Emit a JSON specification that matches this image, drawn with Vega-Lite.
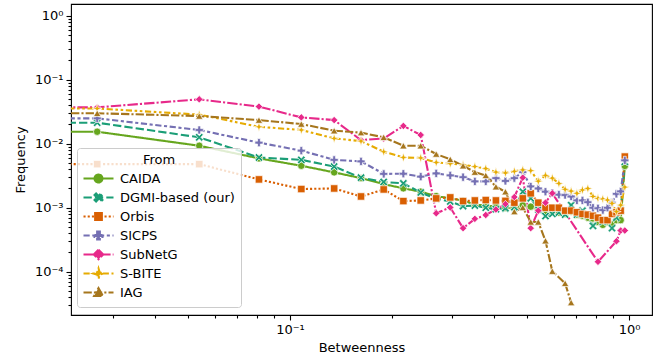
{
  "$schema": "https://vega.github.io/schema/vega-lite/v6.json",
  "width": 581,
  "height": 311,
  "autosize": {"type": "none"},
  "padding": {"left": 71, "top": 4, "right": 13, "bottom": 48},
  "background": "white",
  "config": {
    "font": "DejaVu Sans",
    "view": {"stroke": "black", "strokeWidth": 1.1},
    "axis": {
      "domain": false, "grid": false, "tickColor": "black", "tickWidth": 1.1,
      "labelColor": "black", "labelFontSize": 13, "labelFont": "DejaVu Sans",
      "titleFontSize": 13, "titleFontWeight": "normal", "titleColor": "black", "titleFont": "DejaVu Sans",
      "labelOverlap": false, "labelFlush": false
    },
    "legend": {
      "titleAnchor": "middle", "titleFontSize": 13, "titleFontWeight": "normal", "titleColor": "black", "titlePadding": 3, "titleFont": "DejaVu Sans",
      "labelFontSize": 13, "labelColor": "black", "labelFont": "DejaVu Sans",
      "fillColor": "rgba(255,255,255,0.8)", "strokeColor": "#cccccc", "cornerRadius": 3, "padding": 6,
      "symbolSize": 64, "symbolOffset": 9, "labelOffset": 15, "rowPadding": 2, "clipHeight": 17, "symbolStrokeWidth": 2, "symbolOpacity": 1
    }
  },
  "resolve": {"scale": {"shape": "independent", "strokeDash": "independent", "fill": "independent", "stroke": "independent"}},
  "data": {"values": [
    {"From":"CAIDA","Betweenness":0.015,"Frequency":0.0154},
    {"From":"CAIDA","Betweenness":0.027,"Frequency":0.0154},
    {"From":"CAIDA","Betweenness":0.054,"Frequency":0.0093},
    {"From":"CAIDA","Betweenness":0.081,"Frequency":0.0059},
    {"From":"CAIDA","Betweenness":0.108,"Frequency":0.00453},
    {"From":"CAIDA","Betweenness":0.135,"Frequency":0.00357},
    {"From":"CAIDA","Betweenness":0.162,"Frequency":0.0029},
    {"From":"CAIDA","Betweenness":0.189,"Frequency":0.00234},
    {"From":"CAIDA","Betweenness":0.216,"Frequency":0.00201},
    {"From":"CAIDA","Betweenness":0.243,"Frequency":0.00178},
    {"From":"CAIDA","Betweenness":0.27,"Frequency":0.00152},
    {"From":"CAIDA","Betweenness":0.297,"Frequency":0.0014},
    {"From":"CAIDA","Betweenness":0.324,"Frequency":0.00129},
    {"From":"CAIDA","Betweenness":0.351,"Frequency":0.00113},
    {"From":"CAIDA","Betweenness":0.378,"Frequency":0.00107},
    {"From":"CAIDA","Betweenness":0.405,"Frequency":0.00105},
    {"From":"CAIDA","Betweenness":0.432,"Frequency":0.001},
    {"From":"CAIDA","Betweenness":0.459,"Frequency":0.00098},
    {"From":"CAIDA","Betweenness":0.486,"Frequency":0.0011},
    {"From":"CAIDA","Betweenness":0.513,"Frequency":0.00104},
    {"From":"CAIDA","Betweenness":0.54,"Frequency":0.00095},
    {"From":"CAIDA","Betweenness":0.567,"Frequency":0.00085},
    {"From":"CAIDA","Betweenness":0.594,"Frequency":0.00088},
    {"From":"CAIDA","Betweenness":0.621,"Frequency":0.00084},
    {"From":"CAIDA","Betweenness":0.648,"Frequency":0.0008},
    {"From":"CAIDA","Betweenness":0.675,"Frequency":0.00087},
    {"From":"CAIDA","Betweenness":0.702,"Frequency":0.00078},
    {"From":"CAIDA","Betweenness":0.729,"Frequency":0.00075},
    {"From":"CAIDA","Betweenness":0.756,"Frequency":0.0007},
    {"From":"CAIDA","Betweenness":0.783,"Frequency":0.00068},
    {"From":"CAIDA","Betweenness":0.81,"Frequency":0.0006},
    {"From":"CAIDA","Betweenness":0.837,"Frequency":0.00054},
    {"From":"CAIDA","Betweenness":0.864,"Frequency":0.0006},
    {"From":"CAIDA","Betweenness":0.891,"Frequency":0.00055},
    {"From":"CAIDA","Betweenness":0.918,"Frequency":0.00064},
    {"From":"CAIDA","Betweenness":0.945,"Frequency":0.00064},
    {"From":"CAIDA","Betweenness":0.972,"Frequency":0.0045},

    {"From":"DGMI-based (our)","Betweenness":0.015,"Frequency":0.0213},
    {"From":"DGMI-based (our)","Betweenness":0.027,"Frequency":0.0213},
    {"From":"DGMI-based (our)","Betweenness":0.054,"Frequency":0.0126},
    {"From":"DGMI-based (our)","Betweenness":0.081,"Frequency":0.0061},
    {"From":"DGMI-based (our)","Betweenness":0.108,"Frequency":0.0056},
    {"From":"DGMI-based (our)","Betweenness":0.135,"Frequency":0.0044},
    {"From":"DGMI-based (our)","Betweenness":0.162,"Frequency":0.00295},
    {"From":"DGMI-based (our)","Betweenness":0.189,"Frequency":0.00253},
    {"From":"DGMI-based (our)","Betweenness":0.216,"Frequency":0.0024},
    {"From":"DGMI-based (our)","Betweenness":0.243,"Frequency":0.00173},
    {"From":"DGMI-based (our)","Betweenness":0.27,"Frequency":0.00138},
    {"From":"DGMI-based (our)","Betweenness":0.297,"Frequency":0.00125},
    {"From":"DGMI-based (our)","Betweenness":0.324,"Frequency":0.00106},
    {"From":"DGMI-based (our)","Betweenness":0.351,"Frequency":0.00108},
    {"From":"DGMI-based (our)","Betweenness":0.378,"Frequency":0.001},
    {"From":"DGMI-based (our)","Betweenness":0.405,"Frequency":0.00095},
    {"From":"DGMI-based (our)","Betweenness":0.432,"Frequency":0.00098},
    {"From":"DGMI-based (our)","Betweenness":0.459,"Frequency":0.00102},
    {"From":"DGMI-based (our)","Betweenness":0.486,"Frequency":0.00178},
    {"From":"DGMI-based (our)","Betweenness":0.513,"Frequency":0.0014},
    {"From":"DGMI-based (our)","Betweenness":0.54,"Frequency":0.00094},
    {"From":"DGMI-based (our)","Betweenness":0.567,"Frequency":0.00074},
    {"From":"DGMI-based (our)","Betweenness":0.594,"Frequency":0.0008},
    {"From":"DGMI-based (our)","Betweenness":0.621,"Frequency":0.00084},
    {"From":"DGMI-based (our)","Betweenness":0.648,"Frequency":0.00078},
    {"From":"DGMI-based (our)","Betweenness":0.675,"Frequency":0.0011},
    {"From":"DGMI-based (our)","Betweenness":0.702,"Frequency":0.00078},
    {"From":"DGMI-based (our)","Betweenness":0.729,"Frequency":0.0009},
    {"From":"DGMI-based (our)","Betweenness":0.756,"Frequency":0.00075},
    {"From":"DGMI-based (our)","Betweenness":0.783,"Frequency":0.00052},
    {"From":"DGMI-based (our)","Betweenness":0.81,"Frequency":0.0007},
    {"From":"DGMI-based (our)","Betweenness":0.837,"Frequency":0.0006},
    {"From":"DGMI-based (our)","Betweenness":0.864,"Frequency":0.00065},
    {"From":"DGMI-based (our)","Betweenness":0.891,"Frequency":0.00048},
    {"From":"DGMI-based (our)","Betweenness":0.918,"Frequency":0.0007},
    {"From":"DGMI-based (our)","Betweenness":0.945,"Frequency":0.00092},
    {"From":"DGMI-based (our)","Betweenness":0.972,"Frequency":0.0052},

    {"From":"Orbis","Betweenness":0.015,"Frequency":0.0048},
    {"From":"Orbis","Betweenness":0.027,"Frequency":0.0048},
    {"From":"Orbis","Betweenness":0.054,"Frequency":0.0048},
    {"From":"Orbis","Betweenness":0.081,"Frequency":0.00277},
    {"From":"Orbis","Betweenness":0.108,"Frequency":0.00196},
    {"From":"Orbis","Betweenness":0.135,"Frequency":0.002},
    {"From":"Orbis","Betweenness":0.162,"Frequency":0.0015},
    {"From":"Orbis","Betweenness":0.189,"Frequency":0.00193},
    {"From":"Orbis","Betweenness":0.216,"Frequency":0.00127},
    {"From":"Orbis","Betweenness":0.243,"Frequency":0.0013},
    {"From":"Orbis","Betweenness":0.27,"Frequency":0.0014},
    {"From":"Orbis","Betweenness":0.297,"Frequency":0.00145},
    {"From":"Orbis","Betweenness":0.324,"Frequency":0.00127},
    {"From":"Orbis","Betweenness":0.351,"Frequency":0.0013},
    {"From":"Orbis","Betweenness":0.378,"Frequency":0.00132},
    {"From":"Orbis","Betweenness":0.405,"Frequency":0.0013},
    {"From":"Orbis","Betweenness":0.432,"Frequency":0.00128},
    {"From":"Orbis","Betweenness":0.459,"Frequency":0.0012},
    {"From":"Orbis","Betweenness":0.486,"Frequency":0.0014},
    {"From":"Orbis","Betweenness":0.513,"Frequency":0.00168},
    {"From":"Orbis","Betweenness":0.54,"Frequency":0.0012},
    {"From":"Orbis","Betweenness":0.567,"Frequency":0.001},
    {"From":"Orbis","Betweenness":0.594,"Frequency":0.001},
    {"From":"Orbis","Betweenness":0.621,"Frequency":0.001},
    {"From":"Orbis","Betweenness":0.648,"Frequency":0.0009},
    {"From":"Orbis","Betweenness":0.675,"Frequency":0.0009},
    {"From":"Orbis","Betweenness":0.702,"Frequency":0.00085},
    {"From":"Orbis","Betweenness":0.729,"Frequency":0.0008},
    {"From":"Orbis","Betweenness":0.756,"Frequency":0.00078},
    {"From":"Orbis","Betweenness":0.783,"Frequency":0.00075},
    {"From":"Orbis","Betweenness":0.81,"Frequency":0.0007},
    {"From":"Orbis","Betweenness":0.837,"Frequency":0.00064},
    {"From":"Orbis","Betweenness":0.864,"Frequency":0.00064},
    {"From":"Orbis","Betweenness":0.891,"Frequency":0.0008},
    {"From":"Orbis","Betweenness":0.918,"Frequency":0.00085},
    {"From":"Orbis","Betweenness":0.945,"Frequency":0.0009},
    {"From":"Orbis","Betweenness":0.972,"Frequency":0.0063},

    {"From":"SICPS","Betweenness":0.015,"Frequency":0.0249},
    {"From":"SICPS","Betweenness":0.027,"Frequency":0.0249},
    {"From":"SICPS","Betweenness":0.054,"Frequency":0.0164},
    {"From":"SICPS","Betweenness":0.081,"Frequency":0.0104},
    {"From":"SICPS","Betweenness":0.108,"Frequency":0.0078},
    {"From":"SICPS","Betweenness":0.135,"Frequency":0.0056},
    {"From":"SICPS","Betweenness":0.162,"Frequency":0.0053},
    {"From":"SICPS","Betweenness":0.189,"Frequency":0.00338},
    {"From":"SICPS","Betweenness":0.216,"Frequency":0.0034},
    {"From":"SICPS","Betweenness":0.243,"Frequency":0.00306},
    {"From":"SICPS","Betweenness":0.27,"Frequency":0.00344},
    {"From":"SICPS","Betweenness":0.297,"Frequency":0.0032},
    {"From":"SICPS","Betweenness":0.324,"Frequency":0.003},
    {"From":"SICPS","Betweenness":0.351,"Frequency":0.00258},
    {"From":"SICPS","Betweenness":0.378,"Frequency":0.00258},
    {"From":"SICPS","Betweenness":0.405,"Frequency":0.0029},
    {"From":"SICPS","Betweenness":0.432,"Frequency":0.00262},
    {"From":"SICPS","Betweenness":0.459,"Frequency":0.0029},
    {"From":"SICPS","Betweenness":0.486,"Frequency":0.0036},
    {"From":"SICPS","Betweenness":0.513,"Frequency":0.00215},
    {"From":"SICPS","Betweenness":0.54,"Frequency":0.002},
    {"From":"SICPS","Betweenness":0.567,"Frequency":0.00178},
    {"From":"SICPS","Betweenness":0.594,"Frequency":0.0017},
    {"From":"SICPS","Betweenness":0.621,"Frequency":0.0016},
    {"From":"SICPS","Betweenness":0.648,"Frequency":0.00158},
    {"From":"SICPS","Betweenness":0.675,"Frequency":0.0015},
    {"From":"SICPS","Betweenness":0.702,"Frequency":0.0013},
    {"From":"SICPS","Betweenness":0.729,"Frequency":0.0013},
    {"From":"SICPS","Betweenness":0.756,"Frequency":0.00122},
    {"From":"SICPS","Betweenness":0.783,"Frequency":0.001},
    {"From":"SICPS","Betweenness":0.81,"Frequency":0.00098},
    {"From":"SICPS","Betweenness":0.837,"Frequency":0.00092},
    {"From":"SICPS","Betweenness":0.864,"Frequency":0.001},
    {"From":"SICPS","Betweenness":0.891,"Frequency":0.0012},
    {"From":"SICPS","Betweenness":0.918,"Frequency":0.00165},
    {"From":"SICPS","Betweenness":0.945,"Frequency":0.0018},
    {"From":"SICPS","Betweenness":0.972,"Frequency":0.0055},

    {"From":"SubNetG","Betweenness":0.015,"Frequency":0.037},
    {"From":"SubNetG","Betweenness":0.027,"Frequency":0.037},
    {"From":"SubNetG","Betweenness":0.054,"Frequency":0.0494},
    {"From":"SubNetG","Betweenness":0.081,"Frequency":0.038},
    {"From":"SubNetG","Betweenness":0.108,"Frequency":0.0258},
    {"From":"SubNetG","Betweenness":0.135,"Frequency":0.0234},
    {"From":"SubNetG","Betweenness":0.162,"Frequency":0.0114},
    {"From":"SubNetG","Betweenness":0.189,"Frequency":0.0121},
    {"From":"SubNetG","Betweenness":0.216,"Frequency":0.019},
    {"From":"SubNetG","Betweenness":0.243,"Frequency":0.0137},
    {"From":"SubNetG","Betweenness":0.27,"Frequency":0.00082},
    {"From":"SubNetG","Betweenness":0.297,"Frequency":0.00101},
    {"From":"SubNetG","Betweenness":0.324,"Frequency":0.00048},
    {"From":"SubNetG","Betweenness":0.351,"Frequency":0.00067},
    {"From":"SubNetG","Betweenness":0.378,"Frequency":0.00077},
    {"From":"SubNetG","Betweenness":0.405,"Frequency":0.00094},
    {"From":"SubNetG","Betweenness":0.432,"Frequency":0.00114},
    {"From":"SubNetG","Betweenness":0.459,"Frequency":0.00147},
    {"From":"SubNetG","Betweenness":0.486,"Frequency":0.00295},
    {"From":"SubNetG","Betweenness":0.513,"Frequency":0.00048},
    {"From":"SubNetG","Betweenness":0.54,"Frequency":0.0009},
    {"From":"SubNetG","Betweenness":0.567,"Frequency":0.0012},
    {"From":"SubNetG","Betweenness":0.594,"Frequency":0.00168},
    {"From":"SubNetG","Betweenness":0.81,"Frequency":0.000143},
    {"From":"SubNetG","Betweenness":0.918,"Frequency":0.0003},
    {"From":"SubNetG","Betweenness":0.945,"Frequency":0.00044},
    {"From":"SubNetG","Betweenness":0.972,"Frequency":0.00044},

    {"From":"S-BITE","Betweenness":0.015,"Frequency":0.0355},
    {"From":"S-BITE","Betweenness":0.027,"Frequency":0.0355},
    {"From":"S-BITE","Betweenness":0.054,"Frequency":0.0285},
    {"From":"S-BITE","Betweenness":0.081,"Frequency":0.0184},
    {"From":"S-BITE","Betweenness":0.108,"Frequency":0.0164},
    {"From":"S-BITE","Betweenness":0.135,"Frequency":0.0121},
    {"From":"S-BITE","Betweenness":0.162,"Frequency":0.011},
    {"From":"S-BITE","Betweenness":0.189,"Frequency":0.0075},
    {"From":"S-BITE","Betweenness":0.216,"Frequency":0.0061},
    {"From":"S-BITE","Betweenness":0.243,"Frequency":0.006},
    {"From":"S-BITE","Betweenness":0.27,"Frequency":0.0051},
    {"From":"S-BITE","Betweenness":0.297,"Frequency":0.0049},
    {"From":"S-BITE","Betweenness":0.324,"Frequency":0.0047},
    {"From":"S-BITE","Betweenness":0.351,"Frequency":0.0044},
    {"From":"S-BITE","Betweenness":0.378,"Frequency":0.0041},
    {"From":"S-BITE","Betweenness":0.405,"Frequency":0.0036},
    {"From":"S-BITE","Betweenness":0.432,"Frequency":0.0035},
    {"From":"S-BITE","Betweenness":0.459,"Frequency":0.0037},
    {"From":"S-BITE","Betweenness":0.486,"Frequency":0.0039},
    {"From":"S-BITE","Betweenness":0.513,"Frequency":0.0038},
    {"From":"S-BITE","Betweenness":0.54,"Frequency":0.0026},
    {"From":"S-BITE","Betweenness":0.567,"Frequency":0.0032},
    {"From":"S-BITE","Betweenness":0.594,"Frequency":0.0029},
    {"From":"S-BITE","Betweenness":0.621,"Frequency":0.0024},
    {"From":"S-BITE","Betweenness":0.648,"Frequency":0.00194},
    {"From":"S-BITE","Betweenness":0.675,"Frequency":0.00182},
    {"From":"S-BITE","Betweenness":0.702,"Frequency":0.00168},
    {"From":"S-BITE","Betweenness":0.729,"Frequency":0.0019},
    {"From":"S-BITE","Betweenness":0.756,"Frequency":0.002},
    {"From":"S-BITE","Betweenness":0.783,"Frequency":0.0015},
    {"From":"S-BITE","Betweenness":0.81,"Frequency":0.0014},
    {"From":"S-BITE","Betweenness":0.837,"Frequency":0.00137},
    {"From":"S-BITE","Betweenness":0.864,"Frequency":0.00132},
    {"From":"S-BITE","Betweenness":0.891,"Frequency":0.00117},
    {"From":"S-BITE","Betweenness":0.918,"Frequency":0.00087},
    {"From":"S-BITE","Betweenness":0.945,"Frequency":0.0011},
    {"From":"S-BITE","Betweenness":0.972,"Frequency":0.0021},

    {"From":"IAG","Betweenness":0.015,"Frequency":0.0299},
    {"From":"IAG","Betweenness":0.027,"Frequency":0.0299},
    {"From":"IAG","Betweenness":0.054,"Frequency":0.0271},
    {"From":"IAG","Betweenness":0.081,"Frequency":0.0234},
    {"From":"IAG","Betweenness":0.108,"Frequency":0.0203},
    {"From":"IAG","Betweenness":0.135,"Frequency":0.016},
    {"From":"IAG","Betweenness":0.162,"Frequency":0.0149},
    {"From":"IAG","Betweenness":0.189,"Frequency":0.0126},
    {"From":"IAG","Betweenness":0.216,"Frequency":0.0093},
    {"From":"IAG","Betweenness":0.243,"Frequency":0.0093},
    {"From":"IAG","Betweenness":0.27,"Frequency":0.0069},
    {"From":"IAG","Betweenness":0.297,"Frequency":0.0057},
    {"From":"IAG","Betweenness":0.324,"Frequency":0.00453},
    {"From":"IAG","Betweenness":0.351,"Frequency":0.0036},
    {"From":"IAG","Betweenness":0.378,"Frequency":0.0032},
    {"From":"IAG","Betweenness":0.405,"Frequency":0.00213},
    {"From":"IAG","Betweenness":0.432,"Frequency":0.00178},
    {"From":"IAG","Betweenness":0.459,"Frequency":0.00087},
    {"From":"IAG","Betweenness":0.486,"Frequency":0.00101},
    {"From":"IAG","Betweenness":0.513,"Frequency":0.0006},
    {"From":"IAG","Betweenness":0.54,"Frequency":0.0006},
    {"From":"IAG","Betweenness":0.567,"Frequency":0.000305},
    {"From":"IAG","Betweenness":0.594,"Frequency":0.000102},
    {"From":"IAG","Betweenness":0.648,"Frequency":0.000066},
    {"From":"IAG","Betweenness":0.675,"Frequency":0.000033}
  ]},
  "encoding": {
    "x": {
      "field": "Betweenness", "type": "quantitative",
      "scale": {"type": "log", "domain": [0.0226, 1.169], "nice": false},
      "axis": {
        "title": "Betweenness",
        "values": [0.03,0.04,0.05,0.06,0.07,0.08,0.09,0.1,0.2,0.3,0.4,0.5,0.6,0.7,0.8,0.9,1],
        "labelExpr": "datum.value == 0.1 ? '10⁻¹' : datum.value == 1 ? '10⁰' : ''",
        "tickSize": {"condition": {"test": "datum.value == 0.1 || datum.value == 1", "value": 5}, "value": 3},
        "labelPadding": 3,
        "titlePadding": 5
      }
    },
    "y": {
      "field": "Frequency", "type": "quantitative",
      "scale": {"type": "log", "domain": [0.0000211, 1.524], "nice": false},
      "axis": {
        "title": "Frequency",
        "values": [0.00003,0.00004,0.00005,0.00006,0.00007,0.00008,0.00009,0.0001,0.0002,0.0003,0.0004,0.0005,0.0006,0.0007,0.0008,0.0009,0.001,0.002,0.003,0.004,0.005,0.006,0.007,0.008,0.009,0.01,0.02,0.03,0.04,0.05,0.06,0.07,0.08,0.09,0.1,0.2,0.3,0.4,0.5,0.6,0.7,0.8,0.9,1],
        "labelExpr": "datum.value == 1 ? '10⁰' : datum.value == 0.1 ? '10⁻¹' : datum.value == 0.01 ? '10⁻²' : datum.value == 0.001 ? '10⁻³' : datum.value == 0.0001 ? '10⁻⁴' : ''",
        "tickSize": {"condition": {"test": "datum.value == 1 || datum.value == 0.1 || datum.value == 0.01 || datum.value == 0.001 || datum.value == 0.0001", "value": 5}, "value": 3},
        "labelPadding": 3,
        "titlePadding": 7
      }
    }
  },
  "layer": [
    {
      "mark": {"type": "line", "strokeWidth": 2.1, "clip": true, "strokeCap": "butt"},
      "encoding": {
        "color": {
          "field": "From", "type": "nominal",
          "scale": {
            "domain": ["CAIDA","DGMI-based (our)","Orbis","SICPS","SubNetG","S-BITE","IAG"],
            "range": ["#66a61e","#1b9e77","#d95f02","#7570b3","#e7298a","#e6ab02","#a6761d"]
          },
          "legend": null
        },
        "strokeDash": {
          "field": "From", "type": "nominal",
          "scale": {
            "domain": ["CAIDA","DGMI-based (our)","Orbis","SICPS","SubNetG","S-BITE","IAG"],
            "range": [[1,0],[8.3,3.1],[2.1,2.1],[6.2,2.6,3.1,2.6],[10.4,2.1,2.1,2.1],[6.2,2.6,2.6,2.6,2.6,2.6],[8.3,2.1,8.3,2.1,2.1,2.1]]
          },
          "legend": null
        }
      }
    },
    {
      "mark": {"type": "point", "filled": true, "size": 55, "opacity": 1, "stroke": "white", "strokeWidth": 0.7, "clip": true},
      "encoding": {
        "color": {
          "field": "From", "type": "nominal",
          "scale": {
            "domain": ["CAIDA","DGMI-based (our)","Orbis","SICPS","SubNetG","S-BITE","IAG"],
            "range": ["#66a61e","#1b9e77","#d95f02","#7570b3","#e7298a","#e6ab02","#a6761d"]
          },
          "legend": null
        },
        "shape": {
          "field": "From", "type": "nominal",
          "scale": {
            "domain": ["CAIDA","DGMI-based (our)","Orbis","SICPS","SubNetG","S-BITE","IAG"],
            "range": [
              "circle",
              "M-1.1,-0.66L-0.66,-1.1L0,-0.44L0.66,-1.1L1.1,-0.66L0.44,0L1.1,0.66L0.66,1.1L0,0.44L-0.66,1.1L-1.1,0.66L-0.44,0Z",
              "square",
              "M-0.38,-1.1H0.38V-0.38H1.1V0.38H0.38V1.1H-0.38V0.38H-1.1V-0.38H-0.38Z",
              "diamond",
              "M0,-1.3L0.3,-0.3L1.3,0L0.3,0.3L0,1.3L-0.3,0.3L-1.3,0L-0.3,-0.3Z",
              "triangle-up"
            ]
          },
          "legend": null
        }
      }
    },
    {
      "transform": [{"filter": "datum.Betweenness < 0.02"}],
      "mark": {"type": "point", "filled": true, "size": 64, "opacity": 1, "strokeWidth": 2, "clip": true},
      "encoding": {
        "fill": {
          "field": "From", "type": "nominal",
          "scale": {
            "domain": ["CAIDA","DGMI-based (our)","Orbis","SICPS","SubNetG","S-BITE","IAG"],
            "range": ["#66a61e","#1b9e77","#d95f02","#7570b3","#e7298a","#e6ab02","#a6761d"]
          },
          "legend": {"title": "From", "orient": "none", "legendX": 6, "legendY": 144}
        },
        "stroke": {
          "field": "From", "type": "nominal",
          "scale": {
            "domain": ["CAIDA","DGMI-based (our)","Orbis","SICPS","SubNetG","S-BITE","IAG"],
            "range": ["#66a61e","#1b9e77","#d95f02","#7570b3","#e7298a","#e6ab02","#a6761d"]
          },
          "legend": {"title": "From", "orient": "none", "legendX": 6, "legendY": 144}
        },
        "shape": {
          "field": "From", "type": "nominal",
          "scale": {
            "domain": ["CAIDA","DGMI-based (our)","Orbis","SICPS","SubNetG","S-BITE","IAG"],
            "range": [
              "M-3.75,0H3.75M-1,0A1,1,0,1,1,1,0A1,1,0,1,1,-1,0Z",
              "M-3.75,0H3.75M-1,-0.6L-0.6,-1L0,-0.4L0.6,-1L1,-0.6L0.4,0L1,0.6L0.6,1L0,0.4L-0.6,1L-1,0.6L-0.4,0Z",
              "M-3.75,0H3.75M-0.85,-0.85H0.85V0.85H-0.85ZM-0.325,-0.85H0.85V0.85H-0.85V-0.85Z",
              "M-3.75,0H3.75M-0.35,-1H0.35V-0.35H1V0.35H0.35V1H-0.35V0.35H-1V-0.35H-0.35Z",
              "M-3.75,0H3.75M0,-1.2L1.2,0L0,1.2L-1.2,0Z",
              "M-3.75,0H3.75M0,-1.3L0.3,-0.3L1.3,0L0.3,0.3L0,1.3L-0.3,0.3L-1.3,0L-0.3,-0.3Z",
              "M-3.75,0H3.75M0,-1.1L1.1,0.85H-1.1Z"
            ]
          },
          "legend": {"title": "From", "orient": "none", "legendX": 6, "legendY": 144}
        },
        "strokeDash": {
          "field": "From", "type": "nominal",
          "scale": {
            "domain": ["CAIDA","DGMI-based (our)","Orbis","SICPS","SubNetG","S-BITE","IAG"],
            "range": [[1,0],[8.3,3.1],[2.1,2.1],[6.2,2.6,3.1,2.6],[10.4,2.1,2.1,2.1],[6.2,2.6,2.6,2.6,2.6,2.6],[8.3,2.1,8.3,2.1,2.1,2.1]]
          },
          "legend": {"title": "From", "orient": "none", "legendX": 6, "legendY": 144}
        }
      }
    }
  ]
}
